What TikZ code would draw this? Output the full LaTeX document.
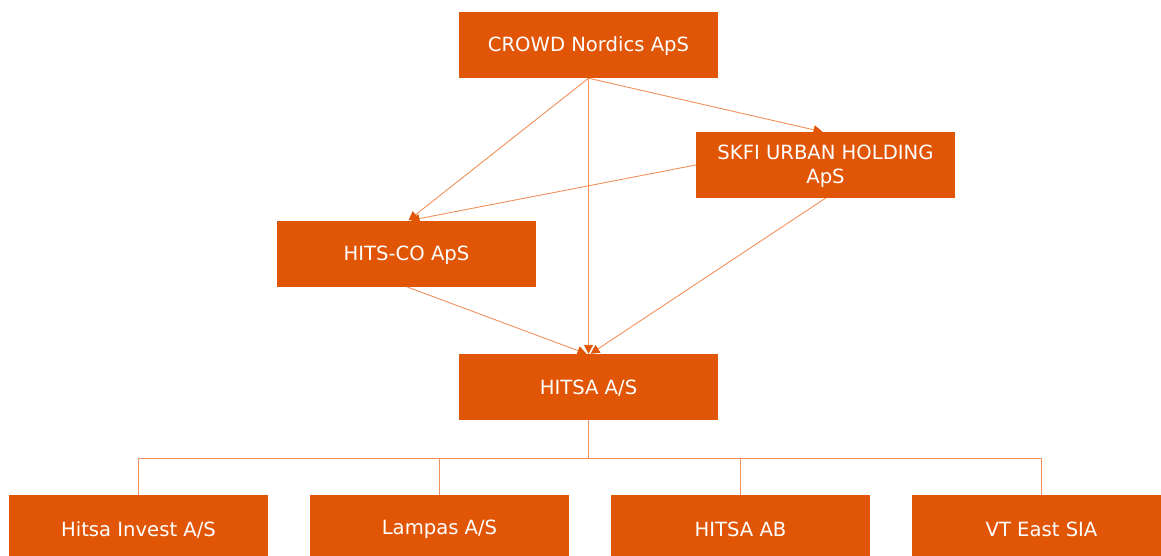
\documentclass[tikz,border=0pt]{standalone}
\usepackage{fontspec}
\setmainfont{DejaVu Sans}
\usetikzlibrary{arrows.meta}
\definecolor{boxc}{HTML}{E05606}
\definecolor{linec}{HTML}{F0905A}
\tikzset{
  org/.style={rectangle, fill=boxc, text=white, minimum width=259pt, minimum height=66pt, inner sep=0pt, align=center, font=\fontsize{19.6}{23.5}\selectfont},
  lbl/.style={text=white, align=center, font=\fontsize{19.6}{23.5}\selectfont, inner sep=0pt},
  conn/.style={draw=linec, line width=0.9pt},
  arr/.style={conn, -{Triangle[length=9pt,width=9pt,color=boxc]}}
}
\begin{document}
\begin{tikzpicture}[x=1pt,y=-1pt]
\useasboundingbox (0,0) rectangle (1161,555);
\clip (0,0) rectangle (1161,555);
\node[org] (crowd) at (588.5,45) {};
\node[org] (skfi) at (825.5,165) {};
\node[org] (hitsco) at (406.5,253.5) {};
\node[org] (hitsa) at (588.5,387) {};
\node[org] (inv) at (138.5,528) {};
\node[org] (lam) at (439.5,528) {};
\node[org] (ab) at (740.5,528) {};
\node[org] (vt) at (1041.5,528) {};
\node[lbl] (crowdt) at ([yshift=-1.5pt]crowd.center) {CROWD Nordics ApS};
\node[lbl] (skfit) at ([yshift=-1.5pt]skfi.center) {SKFI URBAN HOLDING\\ApS};
\node[lbl] (hitscot) at ([yshift=-1.5pt]hitsco.center) {HITS-CO ApS};
\node[lbl] (hitsat) at ([yshift=-1.5pt]hitsa.center) {HITSA A/S};
\node[lbl] (invt) at ([yshift=-1.5pt]inv.center) {Hitsa Invest A/S};
\node[lbl] (lamt) at ([yshift=-1.5pt]lam.center) {Lampas A/S};
\node[lbl] (abt) at ([yshift=-1.5pt]ab.center) {HITSA AB};
\node[lbl] (vtt) at ([yshift=-1.5pt]vt.center) {VT East SIA};
\draw[arr] (crowd.south) -- ([xshift=2pt]hitsco.north);
\draw[arr] (crowd.south) -- (hitsa.north);
\draw[arr] (crowd.south) -- ([xshift=-3pt]skfi.north);
\draw[arr] (skfi.west) -- ([xshift=4pt]hitsco.north);
\draw[arr] (hitsco.south) -- ([xshift=-2pt]hitsa.north);
\draw[arr] (skfi.south) -- ([xshift=2pt]hitsa.north);
\draw[conn] (hitsa.south) -- ++(0,38) coordinate (bus);
\draw[conn] (bus) -| (inv.north);
\draw[conn] (bus) -| (lam.north);
\draw[conn] (bus) -| (ab.north);
\draw[conn] (bus) -| (vt.north);
\end{tikzpicture}
\end{document}
